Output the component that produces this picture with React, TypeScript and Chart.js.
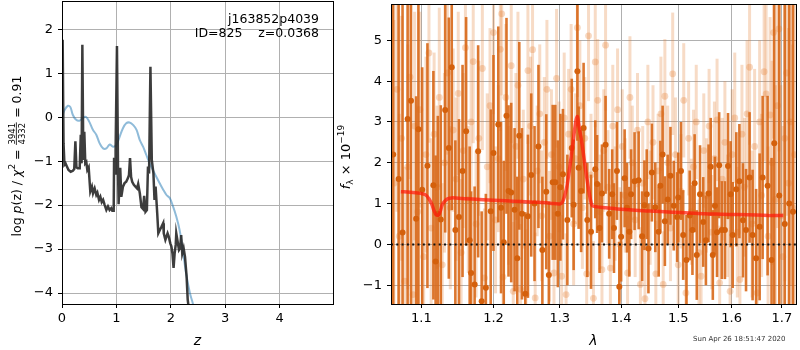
import React, { useEffect, useRef } from "react";
import { Chart, registerables } from "chart.js";
Chart.register(...registerables);

const FONT = '"DejaVu Sans", "Liberation Sans", sans-serif';

// ---------------- left panel data: log p(z) ----------------
const zTicks = [0, 1, 2, 3, 4];
const logpTicks = [-4, -3, -2, -1, 0, 1, 2];

const zBlack = [0.0, 0.012, 0.028, 0.045, 0.065, 0.09, 0.12, 0.16, 0.2, 0.225,
  0.246, 0.265, 0.29, 0.325, 0.345, 0.36, 0.374, 0.392, 0.41, 0.428,
  0.447, 0.465, 0.49, 0.52, 0.55, 0.57, 0.6, 0.63, 0.65, 0.68,
  0.705, 0.73, 0.755, 0.785, 0.815, 0.845, 0.875, 0.905, 0.925, 0.95,
  0.957, 0.975, 0.985, 1.01, 1.03, 1.04, 1.07, 1.09, 1.12, 1.15,
  1.18, 1.21, 1.23, 1.25, 1.27, 1.29, 1.32, 1.35, 1.38, 1.40,
  1.43, 1.46, 1.49, 1.51, 1.535, 1.56, 1.58, 1.60, 1.625, 1.65,
  1.68, 1.70, 1.72, 1.75, 1.77, 1.80, 1.83, 1.86, 1.87, 1.90,
  1.94, 1.96, 1.99, 2.01, 2.03, 2.05, 2.07, 2.09, 2.10, 2.12,
  2.15, 2.17, 2.19, 2.21, 2.235, 2.26, 2.29, 2.31, 2.34, 2.40];
const logpBlack = [-0.98, 1.76, -0.59, -1.08, -1.05, -1.12, -1.2, -1.24, -1.22, -1.18,
  -0.55, -1.14, -1.16, -1.16, -0.4, -1.05, 1.65, -0.97, -0.33, -1.05,
  -1.02, -1.2, -1.14, -1.69, -1.58, -1.73, -1.62, -1.77, -1.72, -1.88,
  -1.81, -1.93, -1.88, -2.0, -2.11, -2.03, -2.11, -2.07, -2.13, -2.13,
  -0.92, -1.28, -0.78, 1.62, -1.22, -1.98, -1.15, -1.81, -1.58, -1.5,
  -1.47, -1.39, -1.32, -0.93, -1.36, -1.47, -1.54, -1.58, -1.62, -1.52,
  -1.73, -2.05, -2.09, -1.79, -2.15, -2.11, -1.12, -1.28, 1.15, -0.97,
  -1.28, -1.88, -1.58, -2.19, -2.64, -2.56, -2.49, -2.41, -2.64, -2.79,
  -2.64, -2.71, -2.87, -2.94, -3.1, -3.43, -3.1, -2.9, -2.64, -2.79,
  -3.02, -2.98, -2.68, -3.1, -2.98, -3.17, -3.63, -4.15, -4.45, -5.2];

const zBlue = [0.0, 0.05, 0.111, 0.154, 0.2, 0.26, 0.32, 0.38, 0.44, 0.5,
  0.57, 0.63, 0.69, 0.755, 0.816, 0.877, 0.938, 1.0, 1.06, 1.12,
  1.18, 1.24, 1.31, 1.37, 1.43, 1.49, 1.55, 1.61, 1.67, 1.73,
  1.79, 1.86, 1.92, 1.98, 2.04, 2.10, 2.16, 2.22, 2.28, 2.35, 2.41, 2.5];
const logpBlue = [0.01, 0.17, 0.26, 0.23, 0.05, -0.06, -0.08, -0.02, 0.01, -0.10,
  -0.29, -0.40, -0.59, -0.71, -0.71, -0.62, -0.67, -0.63, -0.44, -0.25,
  -0.14, -0.12, -0.18, -0.29, -0.52, -0.67, -0.86, -1.05, -1.2, -1.35,
  -1.49, -1.65, -1.77, -1.84, -2.03, -2.26, -2.56, -3.02, -3.55, -4.0, -4.27, -5.0];

// ---------------- right panel data: spectrum ----------------
const lamTicks = [1.1, 1.2, 1.3, 1.4, 1.5, 1.6, 1.7];
const fluxTicks = [-1, 0, 1, 2, 3, 4, 5];

const lightLam = [1.064, 1.068, 1.071, 1.074, 1.078, 1.082, 1.085, 1.089, 1.091, 1.095,
  1.098, 1.103, 1.106, 1.110, 1.113, 1.117, 1.121, 1.124, 1.128, 1.131,
  1.135, 1.139, 1.143, 1.147, 1.150, 1.154, 1.157, 1.160, 1.164, 1.168,
  1.171, 1.175, 1.179, 1.184, 1.187, 1.191, 1.195, 1.200, 1.203, 1.207,
  1.210, 1.212, 1.214, 1.218, 1.222, 1.226, 1.229, 1.233, 1.236, 1.240,
  1.244, 1.248, 1.251, 1.255, 1.258, 1.262, 1.265, 1.269, 1.272, 1.276,
  1.280, 1.284, 1.287, 1.291, 1.295, 1.299, 1.303, 1.307, 1.310, 1.314,
  1.318, 1.322, 1.325, 1.328, 1.332, 1.336, 1.340, 1.343, 1.346, 1.350,
  1.354, 1.357, 1.361, 1.365, 1.368, 1.371, 1.374, 1.378, 1.382, 1.386,
  1.390, 1.394, 1.398, 1.402, 1.407, 1.411, 1.415, 1.419, 1.424, 1.428,
  1.433, 1.437, 1.441, 1.446, 1.450, 1.455, 1.460, 1.464, 1.469, 1.473,
  1.476, 1.481, 1.486, 1.490, 1.495, 1.500, 1.505, 1.510, 1.514, 1.519,
  1.524, 1.528, 1.533, 1.538, 1.542, 1.547, 1.552, 1.557, 1.562, 1.567,
  1.572, 1.577, 1.582, 1.587, 1.592, 1.597, 1.601, 1.606, 1.611, 1.616,
  1.620, 1.625, 1.630, 1.635, 1.640, 1.645, 1.650, 1.655, 1.659, 1.664,
  1.668, 1.672, 1.676, 1.680, 1.683, 1.687, 1.691, 1.694, 1.698, 1.702,
  1.706, 1.710, 1.714, 1.718, 1.722, 1.726];
const lightFlux = [1.5, 3.8, 0.2, 2.6, -0.9, 1.9, 4.1, -1.23, 2.9, 0.8,
  3.3, -0.3, 2.2, 4.69, 0.4, 2.7, 1.4, 3.6, -0.5, 2.0,
  4.2, 0.9, 2.8, 1.6, 3.7, -0.2, 2.3, 4.82, 1.1, 3.0,
  4.48, 0.5, 2.6, 4.31, -0.82, 1.9, 3.4, 5.19, 0.6, 2.1,
  4.78, 5.65, -0.8, 3.6, 1.2, 4.38, -1.15, 2.4, 3.9, -1.1,
  1.6, -1.23, 4.26, 2.9, 4.77, -1.31, 1.8, 3.2, 0.7, 2.5,
  3.8, 0.2, 2.2, -0.7, 4.07, 1.9, -0.78, 3.1, -1.23, 2.7,
  3.8, 0.5, 2.1, 5.31, 3.4, 0.9, 2.6, -0.72, 5.11, 1.7,
  -1.32, 4.47, 3.53, 0.8, -0.62, 2.3, 4.88, 1.4, -0.58, 2.9,
  1.0, 3.3, 0.0, 2.4, 1.2, -0.7, 3.6, 2.0, 0.6, 2.8,
  -0.98, 1.5, -1.33, 3.0, 0.9, 2.5, -0.72, 1.8, 3.2, -0.98,
  3.63, 2.0, 0.4, 4.18, 2.2, -0.5, 1.3, 3.53, -1.19, 2.6,
  0.8, 1.9, 3.0, -0.2, -0.78, 2.3, 1.2, 2.9, 0.3, 2.1,
  3.05, -0.94, 1.6, 2.5, 0.7, -1.15, 2.2, 3.1, 0.3, -0.86,
  2.7, 1.4, 3.2, 4.34, 0.5, 2.4, -1.19, 3.0, 1.2, 4.23,
  3.69, 0.2, 3.17, 2.0, 5.19, 1.1, 3.4, 5.28, 0.7, -0.3,
  2.6, 4.2, 1.5, 3.0, 0.9, 2.2];
const lightErr = [4, 3, 3, 3, 2.8, 3, 2.5, 2.5, 2.8, 2.6,
  2.4, 2.2, 2.4, 2.2, 2.2, 2.0, 2.0, 2.2, 2.0, 2.2,
  2.0, 2.0, 2.0, 2.0, 2.0, 1.8, 1.9, 2.0, 1.8, 2.0,
  2.0, 1.8, 1.9, 2.0, 1.7, 1.8, 1.9, 2.0, 1.8, 1.8,
  2.0, 2.0, 1.7, 1.8, 1.7, 1.9, 1.7, 1.8, 1.8, 1.6,
  1.7, 1.6, 1.8, 1.7, 1.8, 1.6, 1.6, 1.7, 1.6, 1.6,
  1.7, 1.6, 1.6, 1.5, 1.7, 1.6, 1.5, 1.6, 1.5, 1.6,
  1.6, 1.5, 1.6, 1.7, 1.6, 1.5, 1.5, 1.5, 1.6, 1.5,
  1.4, 1.6, 1.5, 1.4, 1.4, 1.5, 1.6, 1.4, 1.4, 1.5,
  1.4, 1.5, 1.4, 1.4, 1.4, 1.4, 1.5, 1.4, 1.4, 1.4,
  1.4, 1.4, 1.3, 1.4, 1.4, 1.4, 1.3, 1.4, 1.4, 1.3,
  1.4, 1.4, 1.3, 1.5, 1.4, 1.3, 1.4, 1.4, 1.3, 1.4,
  1.3, 1.4, 1.4, 1.3, 1.3, 1.4, 1.4, 1.4, 1.4, 1.4,
  1.5, 1.4, 1.5, 1.5, 1.5, 1.5, 1.6, 1.6, 1.6, 1.6,
  1.7, 1.7, 1.8, 1.9, 1.8, 1.9, 1.9, 2.0, 2.0, 2.2,
  2.2, 2.2, 2.4, 2.5, 2.6, 2.8, 3.0, 3.0, 3.2, 3.2,
  3.5, 3.5, 3.8, 4, 4, 4];

const darkLam = [1.0631, 1.0701, 1.0752, 1.0818, 1.0862, 1.093, 1.096, 1.101, 1.108, 1.116,
  1.119, 1.122, 1.126, 1.132, 1.137, 1.141, 1.146, 1.151, 1.156, 1.161,
  1.166, 1.168, 1.173, 1.178, 1.183, 1.189, 1.196, 1.200, 1.207, 1.211,
  1.215, 1.219, 1.222, 1.226, 1.231, 1.235, 1.238, 1.242, 1.247, 1.251,
  1.256, 1.261, 1.267, 1.273, 1.279, 1.283, 1.289, 1.293, 1.297, 1.301,
  1.305, 1.312, 1.319, 1.322, 1.328, 1.330, 1.334, 1.338, 1.344, 1.350,
  1.357, 1.360, 1.364, 1.368, 1.374, 1.380, 1.385, 1.388, 1.393, 1.397,
  1.400, 1.406, 1.410, 1.414, 1.417, 1.423, 1.430, 1.436, 1.440, 1.444,
  1.447, 1.453, 1.459, 1.465, 1.468, 1.472, 1.476, 1.481, 1.486, 1.492,
  1.498, 1.500, 1.505, 1.509, 1.515, 1.521, 1.526, 1.530, 1.534, 1.540,
  1.546, 1.551, 1.556, 1.560, 1.564, 1.568, 1.572, 1.576, 1.581, 1.587,
  1.593, 1.598, 1.602, 1.609, 1.615, 1.622, 1.628, 1.635, 1.641, 1.648,
  1.655, 1.661, 1.671, 1.679, 1.6845, 1.6947, 1.706, 1.7152, 1.723];
const darkFlux = [2.2, 1.6, 0.29, 3.07, 3.52, 0.63, 2.82, 1.34, 1.93, 1.45,
  -0.42, 0.75, 0.61, 3.29, 2.36, 4.34, 0.35, 0.67, 1.8, 2.77,
  0.1, -0.7, -0.98, 2.28, -1.39, -1.06, 0.81, 2.24, 2.94, 0.9,
  0.05, 3.15, 1.31, 1.27, 0.85, -0.34, 2.66, 0.75, -1.21, 0.69,
  1.7, 1.0, 2.40, -0.14, 1.29, -0.75, 1.52, 1.52, 0.75, 1.4,
  1.72, 0.6, 2.36, 0.97, 4.24, 1.88, 1.31, 2.85, 0.6, 0.31,
  1.84, 1.48, 0.4, 1.25, 2.44, 0.75, 1.23, 0.4, 1.8, -1.04,
  0.19, 1.62, 0.9, 0.31, 1.23, 1.55, 1.57, 0.2, 0.96, 1.23,
  -0.1, 1.76, 0.91, 0.31, 1.44, 2.2, 0.57, 1.1, 1.68, 0.95,
  0.67, 1.15, 1.8, 0.23, -0.38, 0.71, 0.35, 1.5, -0.26, 1.23,
  0.55, 0.1, 1.25, 1.9, -0.26, 0.95, 0.3, 1.94, 0.35, 0.35,
  1.92, 1.23, 0.23, 1.35, 1.55, 0.59, 0.35, 1.64, 0.23, -0.34,
  0.43, 1.64, 1.44, -0.38, 2.48, 1.2, 0.5, 1.0, 0.8];
const darkErr = [9, 9, 9, 9, 9, 3.0, 9, 3.0, 3.0, 2.8,
  2.6, 2.4, 2.8, 3.0, 3.2, 3.5, 2.2, 2.4, 2.6, 2.8,
  2.3, 2.0, 2.4, 2.6, 2.2, 2.3, 2.5, 2.4, 2.4, 2.1,
  2.0, 2.4, 2.1, 2.2, 2.0, 2.0, 2.3, 2.1, 2.0, 2.0,
  2.0, 1.9, 2.0, 1.8, 1.9, 1.8, 1.9, 1.9, 1.8, 1.8,
  1.6, 1.6, 1.7, 1.6, 1.7, 1.5, 1.5, 1.6, 1.4, 1.4,
  1.2, 1.2, 1.1, 1.2, 1.2, 1.1, 1.1, 1.1, 1.2, 1.1,
  1.1, 1.2, 1.1, 1.1, 1.1, 1.2, 1.2, 1.1, 1.1, 1.1,
  1.1, 1.2, 1.1, 1.1, 1.1, 1.2, 1.1, 1.1, 1.2, 1.1,
  1.1, 1.1, 1.2, 1.1, 1.1, 1.1, 1.1, 1.2, 1.1, 1.2,
  1.1, 1.1, 1.2, 1.2, 1.1, 1.2, 1.1, 1.3, 1.2, 1.2,
  1.3, 1.3, 1.3, 1.4, 1.4, 1.4, 1.5, 1.6, 1.6, 1.7,
  1.8, 2.0, 2.2, 2.5, 9, 9, 9, 9, 9];

const modelLam = [1.073, 1.085, 1.099, 1.105, 1.110, 1.114, 1.117, 1.120, 1.123, 1.126,
  1.128, 1.132, 1.136, 1.141, 1.150, 1.170, 1.200, 1.218, 1.240, 1.267,
  1.285, 1.300, 1.304, 1.307, 1.311, 1.315, 1.319, 1.323, 1.326, 1.328,
  1.331, 1.334, 1.337, 1.341, 1.345, 1.349, 1.352, 1.360, 1.374, 1.400,
  1.430, 1.460, 1.490, 1.520, 1.549, 1.580, 1.612, 1.650, 1.680, 1.703];
const modelFlux = [1.29, 1.28, 1.25, 1.22, 1.12, 0.98, 0.82, 0.72, 0.72, 0.85,
  0.97, 1.07, 1.12, 1.14, 1.13, 1.11, 1.08, 1.07, 1.05, 1.03,
  1.01, 0.99, 1.03, 1.15, 1.4, 1.8, 2.25, 2.75, 3.05, 3.13,
  2.85, 2.6, 2.3, 1.85, 1.45, 1.1, 0.95, 0.92, 0.9, 0.86,
  0.83, 0.81, 0.79, 0.77, 0.75, 0.74, 0.73, 0.72, 0.71, 0.71];

const LAM_MIN = 1.0603;
const LAM_MAX = 1.7293;

// ---------------- helpers ----------------
function pairs(xs: number[], ys: number[]) {
  const n = Math.min(xs.length, ys.length);
  const out: { x: number; y: number }[] = [];
  for (let i = 0; i < n; i++) out.push({ x: xs[i], y: ys[i] });
  return out;
}
const fmtNum = (v: any) => {
  const n = Number(v);
  return n < 0 ? "\u2212" + String(Math.abs(n)) : String(n);
};
const tickFont = { family: FONT, size: 13 };
const gridCfg = { color: "#b0b0b0", lineWidth: 1, tickColor: "#000", tickLength: 4, drawTicks: true };

type Piece = { t?: string; font: string; dy?: number; frac?: [string, string] };

function drawRich(ctx: CanvasRenderingContext2D, pieces: Piece[], x0: number, y0: number, rotate: boolean) {
  ctx.save();
  ctx.translate(x0, y0);
  if (rotate) ctx.rotate(-Math.PI / 2);
  ctx.fillStyle = "#000";
  ctx.textBaseline = "alphabetic";
  ctx.textAlign = "left";
  const widths = pieces.map((p) => {
    ctx.font = p.font;
    if (p.frac) return Math.max(ctx.measureText(p.frac[0]).width, ctx.measureText(p.frac[1]).width) + 2;
    return ctx.measureText(p.t || "").width;
  });
  const total = widths.reduce((a, b) => a + b, 0);
  let x = -total / 2;
  pieces.forEach((p, i) => {
    ctx.font = p.font;
    if (p.frac) {
      const w = widths[i];
      const wn = ctx.measureText(p.frac[0]).width;
      const wd = ctx.measureText(p.frac[1]).width;
      ctx.fillText(p.frac[0], x + (w - wn) / 2, -5.8);
      ctx.fillText(p.frac[1], x + (w - wd) / 2, 4.6);
      ctx.fillRect(x + 0.5, -4.6, w - 1, 0.8);
    } else {
      ctx.fillText(p.t || "", x, p.dy || 0);
    }
    x += widths[i];
  });
  ctx.restore();
}

function drawFrame(chart: any) {
  const { ctx, chartArea: a } = chart;
  ctx.save();
  ctx.strokeStyle = "#000";
  ctx.lineWidth = 1;
  ctx.strokeRect(a.left + 0.5, a.top + 0.5, a.right - a.left, a.bottom - a.top);
  ctx.restore();
}

const leftDecor = {
  id: "leftDecor",
  afterDraw(chart: any) {
    drawFrame(chart);
    const { ctx, chartArea: a } = chart;
    ctx.save();
    ctx.fillStyle = "#000";
    ctx.font = `12.5px ${FONT}`;
    ctx.textAlign = "right";
    ctx.textBaseline = "middle";
    ctx.fillText("j163852p4039", a.right - 14, a.top + 19);
    ctx.fillText("ID=825    z=0.0368", a.right - 14, a.top + 33);
    ctx.textAlign = "center";
    ctx.font = `italic 14px ${FONT}`;
    ctx.fillText("z", (a.left + a.right) / 2, a.bottom + 37);
    ctx.restore();
    const R = `12.5px ${FONT}`;
    const I = `italic 12.5px ${FONT}`;
    drawRich(ctx, [
      { t: "log ", font: R },
      { t: "p", font: I },
      { t: "(z) / ", font: R },
      { t: "\u03c7", font: I },
      { t: "2", font: `9px ${FONT}`, dy: -5.5 },
      { t: " = ", font: R },
      { frac: ["3941", "4332"], font: `8.5px ${FONT}` },
      { t: " = 0.91", font: R },
    ], 20.5, 156, true);
  },
};

const errorBars = {
  id: "errorBars",
  beforeDatasetDraw(chart: any, args: any) {
    const ds = chart.data.datasets[args.index];
    if (!ds.errs) return;
    const { ctx, chartArea: a, scales } = chart;
    ctx.save();
    ctx.beginPath();
    ctx.rect(a.left, a.top, a.right - a.left, a.bottom - a.top);
    ctx.clip();
    ctx.strokeStyle = ds.errColor;
    ctx.lineWidth = ds.errWidth;
    ctx.lineCap = "butt";
    ds.data.forEach((p: any, i: number) => {
      const e = ds.errs[i] ?? 0;
      const x = scales.x.getPixelForValue(p.x);
      const y1 = scales.y.getPixelForValue(p.y - e);
      const y2 = scales.y.getPixelForValue(p.y + e);
      ctx.beginPath();
      ctx.moveTo(x, y1);
      ctx.lineTo(x, y2);
      ctx.stroke();
    });
    ctx.restore();
  },
};

const rightDecor = {
  id: "rightDecor",
  afterDraw(chart: any) {
    drawFrame(chart);
    const { ctx, chartArea: a } = chart;
    ctx.save();
    ctx.fillStyle = "#000";
    ctx.textAlign = "center";
    ctx.textBaseline = "middle";
    ctx.font = `italic 14px ${FONT}`;
    ctx.fillText("\u03bb", (a.left + a.right) / 2, a.bottom + 37);
    ctx.font = `7px ${FONT}`;
    ctx.fillStyle = "#333";
    ctx.textAlign = "right";
    ctx.fillText("Sun Apr 26 18:51:47 2020", a.right - 10.5, a.bottom + 35);
    ctx.restore();
    drawRich(ctx, [
      { t: "f", font: `italic 13px ${FONT}` },
      { t: "\u03bb", font: `9px ${FONT}`, dy: 3 },
      { t: " \u00d7 10", font: `13px ${FONT}` },
      { t: "\u221219", font: `9px ${FONT}`, dy: -6 },
    ], 20, 157, true);
  },
};

function axisX(min: number, max: number, ticks: number[], type: string, fmt: (v: any) => string) {
  return {
    type,
    min,
    max,
    afterFit: (s: any) => { s.height = 46; s.paddingLeft = 0; s.paddingRight = 0; },
    afterBuildTicks: (s: any) => { s.ticks = ticks.map((v) => ({ value: v })); },
    ticks: { font: tickFont, color: "#000", padding: 3, autoSkip: false, maxRotation: 0, callback: fmt },
    grid: gridCfg,
    border: { display: false },
  };
}
function axisY(min: number, max: number, ticks: number[], width: number) {
  return {
    type: "linear",
    min,
    max,
    afterFit: (s: any) => { s.width = width; s.paddingTop = 0; s.paddingBottom = 0; },
    afterBuildTicks: (s: any) => { s.ticks = ticks.map((v) => ({ value: v })); },
    ticks: { font: tickFont, color: "#000", padding: 5, autoSkip: false, callback: fmtNum },
    grid: gridCfg,
    border: { display: false },
  };
}

export default function App() {
  const leftRef = useRef<HTMLCanvasElement>(null);
  const rightRef = useRef<HTMLCanvasElement>(null);

  useEffect(() => {
    const common = {
      responsive: false,
      animation: false,
      devicePixelRatio: 1,
      events: [],
      plugins: { legend: { display: false }, tooltip: { enabled: false } },
    };
    const c1 = new Chart(leftRef.current as HTMLCanvasElement, {
      type: "scatter",
      data: {
        datasets: [
          {
            data: pairs(zBlack, logpBlack),
            showLine: true,
            borderColor: "rgba(40,40,40,0.9)",
            borderWidth: 2.5,
            pointRadius: 0,
            tension: 0,
            order: 0,
          },
          {
            data: pairs(zBlue, logpBlue),
            showLine: true,
            borderColor: "rgba(31,119,180,0.5)",
            borderWidth: 2,
            pointRadius: 0,
            tension: 0.35,
            order: 1,
          },
        ],
      } as any,
      options: {
        ...common,
        layout: { padding: { left: 0, right: 7, top: 1, bottom: 0 } },
        scales: {
          x: axisX(0, 4.98, zTicks, "linear", (v: any) => String(v)),
          y: axisY(-4.25, 2.644, logpTicks, 62),
        },
      } as any,
      plugins: [leftDecor],
    });

    const c2 = new Chart(rightRef.current as HTMLCanvasElement, {
      type: "scatter",
      data: {
        datasets: [
          {
            data: [{ x: LAM_MIN, y: 0 }, { x: LAM_MAX, y: 0 }],
            showLine: true,
            borderColor: "#111",
            borderWidth: 2,
            borderDash: [2, 3.3],
            pointRadius: 0,
            order: 0,
          },
          {
            data: pairs(modelLam, modelFlux),
            showLine: true,
            borderColor: "rgba(255,25,10,0.72)",
            borderWidth: 3.5,
            pointRadius: 0,
            tension: 0.3,
            order: 1,
          },
          {
            data: pairs(darkLam, darkFlux),
            errs: darkErr,
            errColor: "rgba(216,104,24,0.9)",
            errWidth: 2.6,
            pointRadius: 3.0,
            pointBackgroundColor: "rgb(212,96,12)",
            pointBorderWidth: 0,
            order: 2,
          },
          {
            data: pairs(lightLam, lightFlux),
            errs: lightErr,
            errColor: "rgba(228,125,50,0.28)",
            errWidth: 3,
            pointRadius: 3.4,
            pointBackgroundColor: "rgba(228,125,50,0.3)",
            pointBorderWidth: 0,
            order: 3,
          },
        ],
      } as any,
      options: {
        ...common,
        layout: { padding: { left: 0, right: 2, top: 1, bottom: 0 } },
        scales: {
          x: axisX(LAM_MIN, LAM_MAX, lamTicks, "logarithmic", (v: any) => Number(v).toFixed(1)),
          y: axisY(-1.46, 5.89, fluxTicks, 61),
        },
      } as any,
      plugins: [errorBars, rightDecor],
    });

    return () => {
      c1.destroy();
      c2.destroy();
    };
  }, []);

  return (
    <div style={{ position: "absolute", left: 0, top: 0, width: 800, height: 350, background: "#fff" }}>
      <canvas ref={leftRef} width={340} height={350} style={{ position: "absolute", left: 0, top: 0 }} />
      <canvas ref={rightRef} width={470} height={350} style={{ position: "absolute", left: 330, top: 0 }} />
    </div>
  );
}
